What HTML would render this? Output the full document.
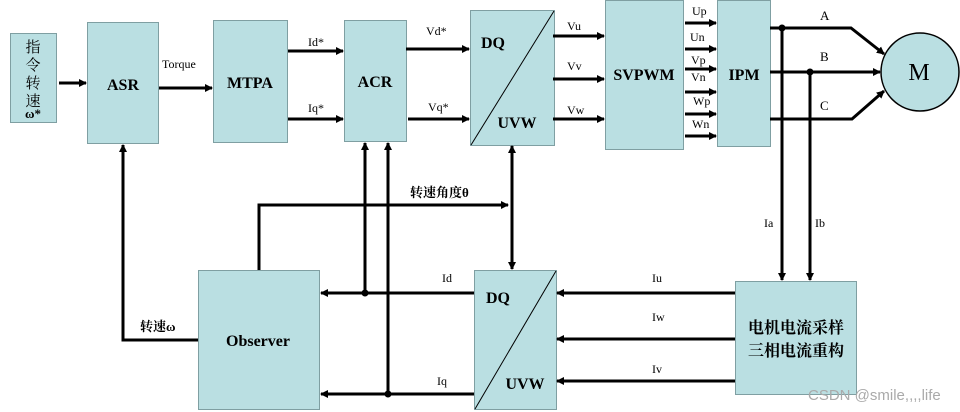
<!DOCTYPE html>
<html><head><meta charset="utf-8"><style>
html,body{margin:0;padding:0;background:#fff;}
svg{display:block;}
text{font-family:"Liberation Serif","Noto Serif CJK SC",serif;}
.b{font-weight:bold;}
.cj{font-family:"Liberation Sans","Noto Sans CJK SC",sans-serif;}
</style></head><body>
<svg width="960" height="412" viewBox="0 0 960 412" xmlns="http://www.w3.org/2000/svg">
<defs>
<marker id="a" markerWidth="8" markerHeight="8" refX="7" refY="4" orient="auto" markerUnits="userSpaceOnUse">
<path d="M0,0 L8,4 L0,8 z" fill="#000"/></marker>
</defs>
<g fill="#badfe2" stroke="#7f9fa2" stroke-width="1">
<rect x="10.5" y="33.5" width="46" height="89"/>
<rect x="87.5" y="22.5" width="71" height="121"/>
<rect x="213.5" y="20.5" width="74" height="122"/>
<rect x="344.5" y="20.5" width="62" height="121"/>
<rect x="470.5" y="10.5" width="84" height="135"/>
<rect x="605.5" y="0.5" width="78" height="149"/>
<rect x="717.5" y="0.5" width="53" height="146"/>
<rect x="198.5" y="270.5" width="121" height="139"/>
<rect x="474.5" y="270.5" width="82" height="139"/>
<rect x="735.5" y="281.5" width="121" height="113"/>
<circle cx="920" cy="72" r="39" stroke="#000" stroke-width="1.5"/>
</g>
<g stroke="#000" stroke-width="1">
<line x1="471" y1="145" x2="554" y2="11"/>
<line x1="475" y1="409" x2="556" y2="271"/>
</g>
<g stroke="#000" stroke-width="3" fill="none" marker-end="url(#a)">
<line x1="59" y1="83" x2="86" y2="83"/>
<line x1="159" y1="88" x2="212" y2="88"/>
<line x1="288" y1="51" x2="343" y2="51"/>
<line x1="288" y1="119" x2="343" y2="119"/>
<line x1="406" y1="49" x2="469" y2="49"/>
<line x1="408" y1="119" x2="469" y2="119"/>
<line x1="553" y1="36" x2="604" y2="36"/>
<line x1="553" y1="79" x2="604" y2="79"/>
<line x1="553" y1="119" x2="604" y2="119"/>
<line x1="685" y1="23" x2="716" y2="23"/>
<line x1="685" y1="49" x2="716" y2="49"/>
<line x1="685" y1="69" x2="716" y2="69"/>
<line x1="685" y1="92" x2="716" y2="92"/>
<line x1="685" y1="114" x2="716" y2="114"/>
<line x1="685" y1="136" x2="716" y2="136"/>
<polyline points="770,28 851,28 884,54"/>
<line x1="770" y1="72" x2="880" y2="72"/>
<polyline points="770,119 852,119 884,91"/>
<line x1="782" y1="28" x2="782" y2="280"/>
<line x1="810" y1="72" x2="810" y2="280"/>
<polyline points="259,270 259,205 508,205"/>
<line x1="512" y1="165" x2="512" y2="269"/>
<line x1="512" y1="165" x2="512" y2="146"/>
<polyline points="198,340 123,340 123,145"/>
<line x1="474" y1="293" x2="321" y2="293"/>
<line x1="474" y1="394" x2="321" y2="394"/>
<line x1="365" y1="293" x2="365" y2="143"/>
<line x1="388" y1="394" x2="388" y2="143"/>
<line x1="735" y1="293" x2="557" y2="293"/>
<line x1="735" y1="339" x2="557" y2="339"/>
<line x1="735" y1="381" x2="557" y2="381"/>
</g>
<g fill="#000">
<circle cx="782" cy="28" r="3.5"/><circle cx="810" cy="72" r="3.5"/>
<circle cx="365" cy="293" r="3.5"/><circle cx="388" cy="394" r="3.5"/>
</g>
<g font-size="16" class="b" text-anchor="middle">
<text x="123" y="90">ASR</text>
<text x="250" y="88">MTPA</text>
<text x="375" y="87">ACR</text>
<text x="644" y="80">SVPWM</text>
<text x="744" y="80">IPM</text>
<text x="258" y="346">Observer</text>
<text x="493" y="48">DQ</text>
<text x="517" y="128">UVW</text>
<text x="498" y="303">DQ</text>
<text x="525" y="389">UVW</text>
</g>
<text x="919" y="80" font-size="24" text-anchor="middle">M</text>
<g font-size="15" class="cj" text-anchor="middle">
<text x="33" y="52">指</text><text x="33" y="70">令</text><text x="33" y="88">转</text><text x="33" y="106">速</text>
<text x="33" y="118" font-size="13" class="b">ω*</text>
</g>
<g font-size="12">
<text x="162" y="68">Torque</text>
<text x="308" y="46">Id*</text>
<text x="308" y="112">Iq*</text>
<text x="426" y="35">Vd*</text>
<text x="428" y="111">Vq*</text>
<text x="567" y="30">Vu</text>
<text x="567" y="70">Vv</text>
<text x="567" y="114">Vw</text>
<text x="692" y="15">Up</text>
<text x="690" y="41">Un</text>
<text x="691" y="64">Vp</text>
<text x="691" y="81">Vn</text>
<text x="693" y="105">Wp</text>
<text x="692" y="128">Wn</text>
<text x="442" y="282">Id</text>
<text x="437" y="385">Iq</text>
<text x="652" y="282">Iu</text>
<text x="652" y="321">Iw</text>
<text x="652" y="373">Iv</text>
<text x="764" y="227">Ia</text>
<text x="815" y="227">Ib</text>
</g>
<g font-size="13" class="cj">
<text x="820" y="20">A</text><text x="820" y="61">B</text><text x="820" y="110">C</text>
</g>
<g font-size="13" class="cj b">
<text x="410" y="197">转速角度θ</text>
<text x="140" y="331">转速ω</text>
</g>
<g font-size="16" class="cj b" text-anchor="middle">
<text x="796" y="333">电机电流采样</text>
<text x="796" y="356">三相电流重构</text>
</g>
<text x="808" y="400" font-size="15" class="cj" fill="#aaa">CSDN @smile,,,,life</text>
</svg>
</body></html>
